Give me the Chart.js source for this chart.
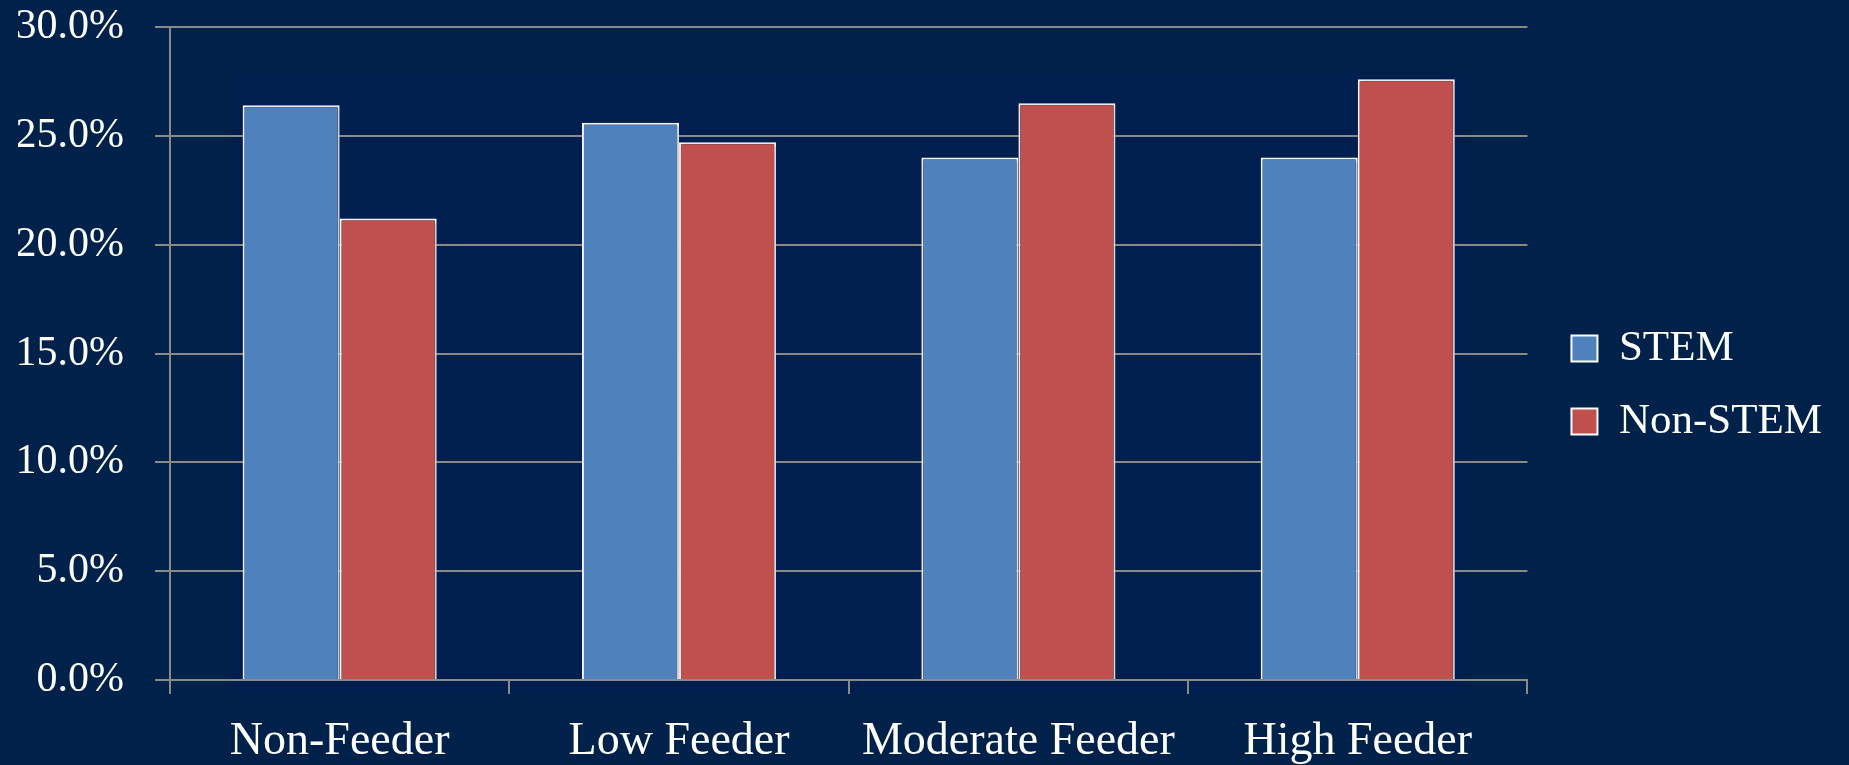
<!DOCTYPE html>
<html>
<head>
<meta charset="utf-8">
<title>STEM vs Non-STEM by feeder type</title>
<script src="https://cdn.jsdelivr.net/npm/chart.js@4.4.1/dist/chart.umd.min.js"></script>
<style>
  html, body { margin: 0; padding: 0; }
  body { width: 1849px; height: 765px; background: #00224A; position: relative; overflow: hidden; }
  #panel { position: absolute; left: 231px; top: 74px; width: 1237px; height: 619px; background: #001F4F; }
  #chart { position: absolute; left: 0; top: 0; }
</style>
</head>
<body>
<div id="panel"></div>
<canvas id="chart" width="1849" height="765"></canvas>
<script>
// Share of students in each feeder group
const categories = ['Non-Feeder', 'Low Feeder', 'Moderate Feeder', 'High Feeder'];
const stemValues = [26.4, 25.6, 24.0, 24.0];
const nonStemValues = [21.2, 24.7, 26.5, 27.6];
const seriesNames = ['STEM', 'Non-STEM'];
const yMin = 0;
const yMax = 30;
const yStep = 5;

const FONT = "'Liberation Serif', 'Times New Roman', serif";
const GRID = '#8A8A8A';

Chart.defaults.font.family = FONT;
Chart.defaults.color = '#FFFFFF';

// soft drop shadow behind the bars
const barShadow = {
  id: 'barShadow',
  beforeDatasetsDraw(chart) {
    const ctx = chart.ctx;
    ctx.save();
    ctx.shadowColor = 'rgba(0,0,0,0.35)';
    ctx.shadowBlur = 4;
    ctx.shadowOffsetX = 1;
    ctx.shadowOffsetY = 1;
  },
  afterDatasetsDraw(chart) {
    chart.ctx.restore();
  }
};

new Chart(document.getElementById('chart'), {
  type: 'bar',
  data: {
    labels: categories,
    datasets: [
      {
        label: seriesNames[0],
        data: stemValues,
        backgroundColor: '#4F81BD',
        borderColor: '#FFFFFF',
        borderWidth: 2,
        categoryPercentage: 0.572,
        barPercentage: 1.0
      },
      {
        label: seriesNames[1],
        data: nonStemValues,
        backgroundColor: '#C0504D',
        borderColor: '#FFFFFF',
        borderWidth: 2,
        categoryPercentage: 0.572,
        barPercentage: 1.0
      }
    ]
  },
  options: {
    responsive: false,
    animation: false,
    layout: { padding: { left: 18, top: 5, right: 17, bottom: 0 } },
    plugins: {
      legend: {
        position: 'right',
        align: 'center',
        labels: {
          color: '#FFFFFF',
          font: { size: 43, family: FONT },
          boxWidth: 26,
          boxHeight: 26,
          padding: 30
        }
      },
      tooltip: { enabled: false }
    },
    scales: {
      x: {
        offset: true,
        grid: {
          display: true,
          offset: true,
          drawOnChartArea: false,
          drawTicks: true,
          tickLength: 14,
          color: GRID,
          lineWidth: 2
        },
        border: { display: true, color: GRID, width: 2 },
        ticks: {
          color: '#FFFFFF',
          font: { size: 46, family: FONT, lineHeight: '36px' },
          padding: 30,
          maxRotation: 0,
          autoSkip: false
        },
        afterFit: (scale) => { scale.height = 85; scale.paddingLeft = 0; scale.paddingRight = 0; }
      },
      y: {
        min: yMin,
        max: yMax,
        grid: {
          color: GRID,
          lineWidth: 2,
          drawTicks: true,
          tickLength: 15
        },
        border: { display: true, color: GRID, width: 2 },
        ticks: {
          stepSize: yStep,
          color: '#FFFFFF',
          font: { size: 42, family: FONT },
          padding: 31,
          callback: (v) => v.toFixed(1) + '%'
        },
        afterFit: (scale) => { scale.width = 152; scale.paddingTop = 27; scale.paddingBottom = 0; }
      },
      gap: {
        type: 'linear',
        position: 'right',
        display: true,
        grid: { display: false },
        border: { display: false },
        ticks: { display: false },
        afterFit: (scale) => { scale.width = 14; scale.paddingTop = 0; scale.paddingBottom = 0; }
      }
    }
  },
  plugins: [barShadow]
});
</script>
</body>
</html>
